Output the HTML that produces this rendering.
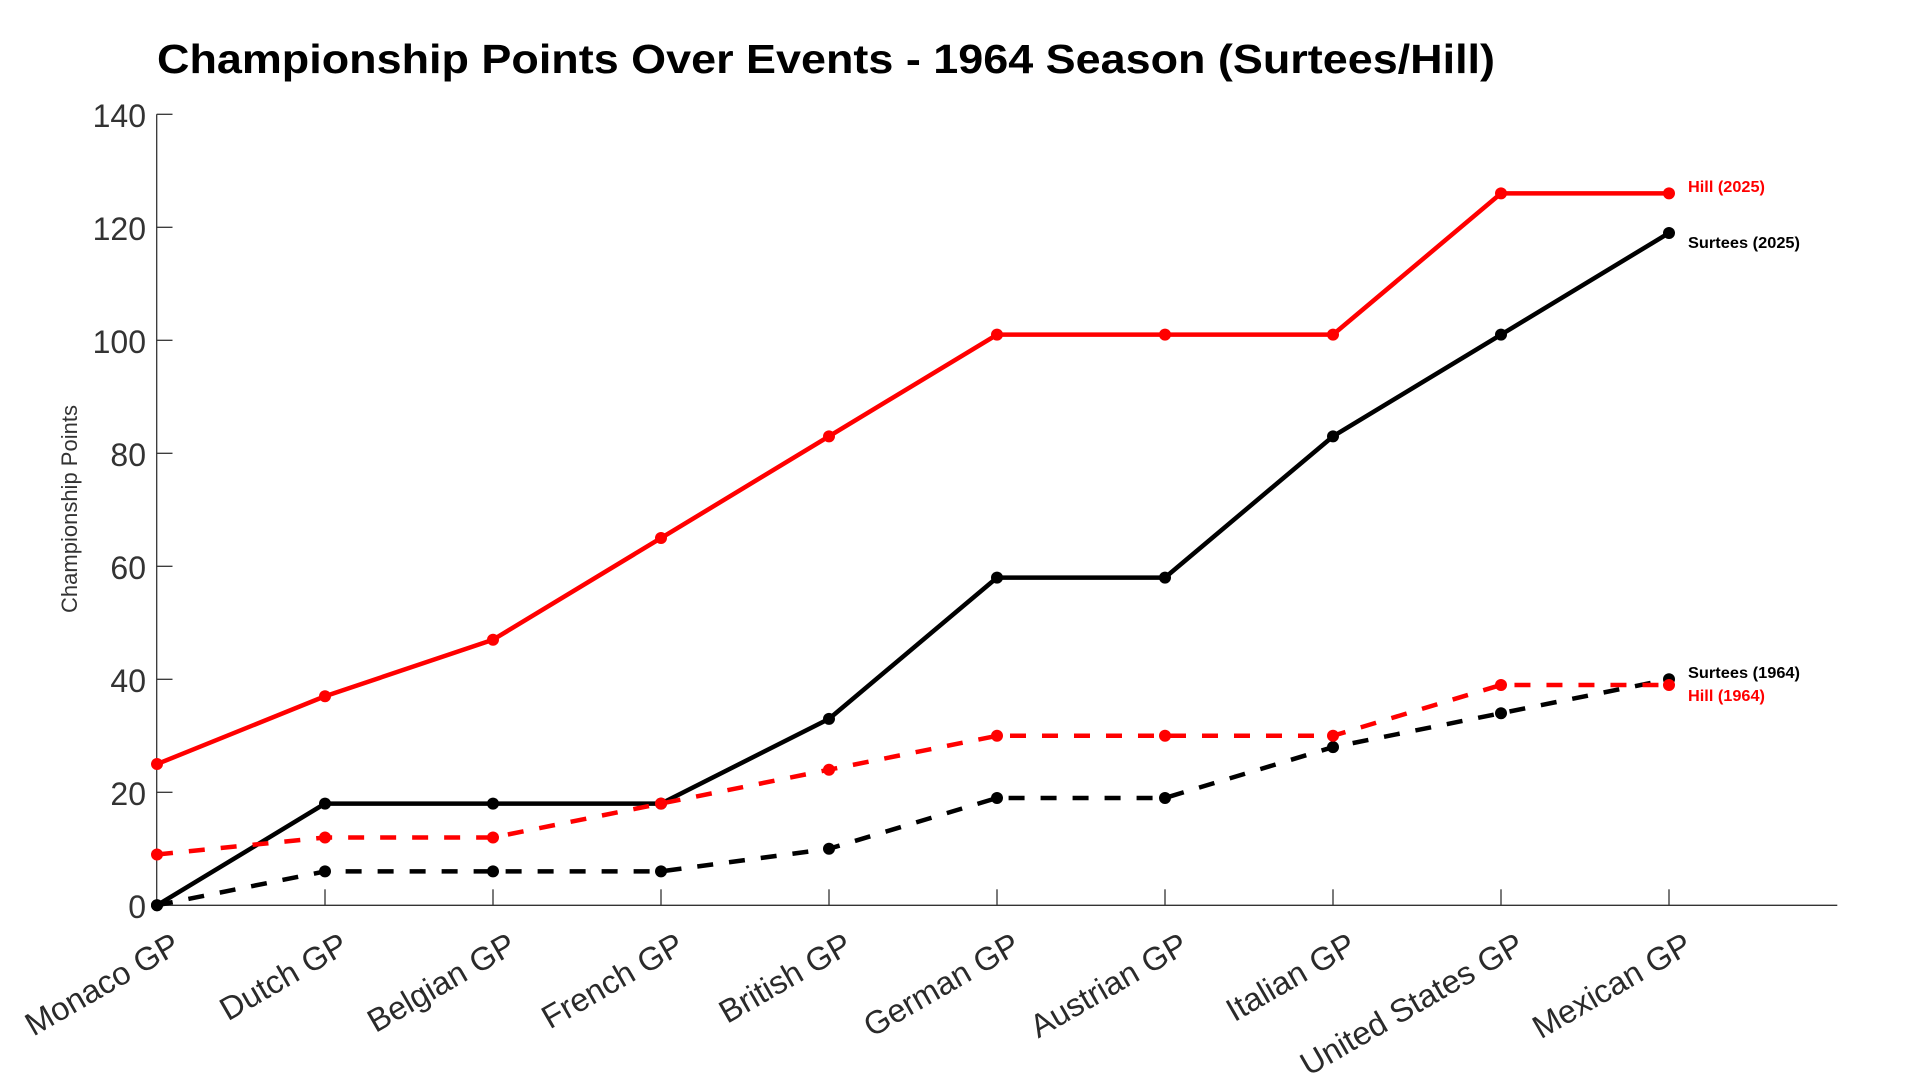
<!DOCTYPE html>
<html>
<head>
<meta charset="utf-8">
<style>
  html, body { margin: 0; padding: 0; background: #ffffff; }
  svg { display: block; }
  text { font-family: "Liberation Sans", "DejaVu Sans", sans-serif; }
</style>
</head>
<body>
<svg width="1920" height="1080" viewBox="0 0 1920 1080" xmlns="http://www.w3.org/2000/svg">
  <rect x="0" y="0" width="1920" height="1080" fill="#ffffff"/>

  <!-- Title -->
  <text x="157" y="73" font-size="41" font-weight="bold" fill="#000" textLength="1338" lengthAdjust="spacingAndGlyphs">Championship Points Over Events - 1964 Season (Surtees/Hill)</text>

  <!-- Axes -->
  <g stroke="#333" stroke-width="1.3" fill="none">
    <line x1="156.7" y1="114.3" x2="156.7" y2="905.3"/>
    <line x1="156.7" y1="905.3" x2="1837.3" y2="905.3"/>
    <!-- y ticks -->
    <line x1="156.7" y1="114.3" x2="172.5" y2="114.3"/>
    <line x1="156.7" y1="227.3" x2="172.5" y2="227.3"/>
    <line x1="156.7" y1="340.3" x2="172.5" y2="340.3"/>
    <line x1="156.7" y1="453.3" x2="172.5" y2="453.3"/>
    <line x1="156.7" y1="566.3" x2="172.5" y2="566.3"/>
    <line x1="156.7" y1="679.3" x2="172.5" y2="679.3"/>
    <line x1="156.7" y1="792.3" x2="172.5" y2="792.3"/>
    <!-- x ticks -->
    <line x1="325" y1="905.3" x2="325" y2="889.3"/>
    <line x1="493" y1="905.3" x2="493" y2="889.3"/>
    <line x1="661" y1="905.3" x2="661" y2="889.3"/>
    <line x1="829" y1="905.3" x2="829" y2="889.3"/>
    <line x1="997" y1="905.3" x2="997" y2="889.3"/>
    <line x1="1165" y1="905.3" x2="1165" y2="889.3"/>
    <line x1="1333" y1="905.3" x2="1333" y2="889.3"/>
    <line x1="1501" y1="905.3" x2="1501" y2="889.3"/>
    <line x1="1669" y1="905.3" x2="1669" y2="889.3"/>
  </g>

  <!-- Y tick labels -->
  <g font-size="32" fill="#333" text-anchor="end">
    <text x="146" y="127">140</text>
    <text x="146" y="240">120</text>
    <text x="146" y="353">100</text>
    <text x="146" y="466">80</text>
    <text x="146" y="579">60</text>
    <text x="146" y="692">40</text>
    <text x="146" y="805">20</text>
    <text x="146" y="918">0</text>
  </g>

  <!-- Y axis title -->
  <text transform="translate(77,509) rotate(-90)" font-size="22" fill="#333" text-anchor="middle">Championship Points</text>

  <!-- X tick labels -->
  <g font-size="32.5" fill="#2a2a2a" text-anchor="end">
    <text transform="translate(182,951) rotate(-30)">Monaco GP</text>
    <text transform="translate(350,951) rotate(-30)">Dutch GP</text>
    <text transform="translate(518,951) rotate(-30)">Belgian GP</text>
    <text transform="translate(686,951) rotate(-30)">French GP</text>
    <text transform="translate(854,951) rotate(-30)">British GP</text>
    <text transform="translate(1022,951) rotate(-30)">German GP</text>
    <text transform="translate(1190,951) rotate(-30)">Austrian GP</text>
    <text transform="translate(1358,951) rotate(-30)">Italian GP</text>
    <text transform="translate(1526,951) rotate(-30)">United States GP</text>
    <text transform="translate(1694,951) rotate(-30)">Mexican GP</text>
  </g>

  <!-- Surtees 2025 (black solid) -->
  <polyline fill="none" stroke="#000" stroke-width="4.5" stroke-linejoin="round"
    points="157,905.3 325,803.6 493,803.6 661,803.6 829,718.85 997,577.6 1165,577.6 1333,436.35 1501,334.65 1669,232.95"/>
  <g fill="#000">
    <circle cx="157" cy="905.3" r="6"/><circle cx="325" cy="803.6" r="6"/><circle cx="493" cy="803.6" r="6"/>
    <circle cx="661" cy="803.6" r="6"/><circle cx="829" cy="718.85" r="6"/><circle cx="997" cy="577.6" r="6"/>
    <circle cx="1165" cy="577.6" r="6"/><circle cx="1333" cy="436.35" r="6"/><circle cx="1501" cy="334.65" r="6"/>
    <circle cx="1669" cy="232.95" r="6"/>
  </g>

  <!-- Hill 2025 (red solid) -->
  <polyline fill="none" stroke="#ff0000" stroke-width="4.5" stroke-linejoin="round"
    points="157,764.05 325,696.25 493,639.75 661,538.05 829,436.35 997,334.65 1165,334.65 1333,334.65 1501,193.4 1669,193.4"/>
  <g fill="#ff0000">
    <circle cx="157" cy="764.05" r="6"/><circle cx="325" cy="696.25" r="6"/><circle cx="493" cy="639.75" r="6"/>
    <circle cx="661" cy="538.05" r="6"/><circle cx="829" cy="436.35" r="6"/><circle cx="997" cy="334.65" r="6"/>
    <circle cx="1165" cy="334.65" r="6"/><circle cx="1333" cy="334.65" r="6"/><circle cx="1501" cy="193.4" r="6"/>
    <circle cx="1669" cy="193.4" r="6"/>
  </g>

  <!-- Surtees 1964 (black dashed) -->
  <polyline fill="none" stroke="#000" stroke-width="4.5" stroke-dasharray="16,16"
    points="157,905.3 325,871.4 493,871.4 661,871.4 829,848.8 997,797.95 1165,797.95 1333,747.1 1501,713.2 1669,679.3"/>
  <g fill="#000">
    <circle cx="157" cy="905.3" r="6"/><circle cx="325" cy="871.4" r="6"/><circle cx="493" cy="871.4" r="6"/>
    <circle cx="661" cy="871.4" r="6"/><circle cx="829" cy="848.8" r="6"/><circle cx="997" cy="797.95" r="6"/>
    <circle cx="1165" cy="797.95" r="6"/><circle cx="1333" cy="747.1" r="6"/><circle cx="1501" cy="713.2" r="6"/>
    <circle cx="1669" cy="679.3" r="6"/>
  </g>

  <!-- Hill 1964 (red dashed) -->
  <polyline fill="none" stroke="#ff0000" stroke-width="4.5" stroke-dasharray="16,16"
    points="157,854.45 325,837.5 493,837.5 661,803.6 829,769.7 997,735.8 1165,735.8 1333,735.8 1501,684.95 1669,684.95"/>
  <g fill="#ff0000">
    <circle cx="157" cy="854.45" r="6"/><circle cx="325" cy="837.5" r="6"/><circle cx="493" cy="837.5" r="6"/>
    <circle cx="661" cy="803.6" r="6"/><circle cx="829" cy="769.7" r="6"/><circle cx="997" cy="735.8" r="6"/>
    <circle cx="1165" cy="735.8" r="6"/><circle cx="1333" cy="735.8" r="6"/><circle cx="1501" cy="684.95" r="6"/>
    <circle cx="1669" cy="684.95" r="6"/>
  </g>

  <!-- End labels -->
  <g font-size="15.5" font-weight="bold">
    <text x="1688" y="192" fill="#ff0000" textLength="77" lengthAdjust="spacingAndGlyphs">Hill (2025)</text>
    <text x="1688" y="248" fill="#000" textLength="112" lengthAdjust="spacingAndGlyphs">Surtees (2025)</text>
    <text x="1688" y="678" fill="#000" textLength="112" lengthAdjust="spacingAndGlyphs">Surtees (1964)</text>
    <text x="1688" y="701" fill="#ff0000" textLength="77" lengthAdjust="spacingAndGlyphs">Hill (1964)</text>
  </g>
</svg>
</body>
</html>
